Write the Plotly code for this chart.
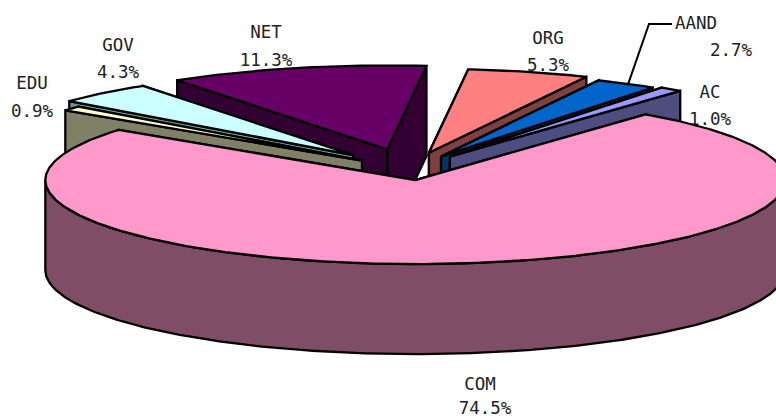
import numpy as np
import plotly.graph_objects as go

# Share of domains by type, clockwise from the first slice
categories = ["COM", "EDU", "GOV", "NET", "ORG", "AAND", "AC"]
shares = [74.5, 0.9, 4.3, 11.3, 5.3, 2.7, 1.0]

# Styling for each slice
top_colors = ["#FF99CC", "#FFFFCC", "#CCFFFF", "#660066", "#FF8080", "#0066CC", "#9999FF"]
wall_colors = ["#804D66", "#808066", "#669999", "#330033", "#804040", "#003366", "#4D4D80"]
explosion = [0.133, 0.162, 0.225, 0.24, 0.2, 0.173, 0.185]
paint_order = ["NET", "GOV", "ORG", "AAND", "AC", "EDU", "COM"]

# Label centres as (x, y of name line, y of value line)
label_pos = {
    "COM": [(480, 386), (485, 410)],
    "EDU": [(32, 85), (32, 113)],
    "GOV": [(118, 47), (118, 74)],
    "NET": [(266, 34), (266, 62)],
    "ORG": [(548, 40), (548, 67)],
    "AAND": [(696, 25), (731, 52)],
    "AC": [(710, 94), (710, 121)],
}

# Pie projection in page pixels
CX, CY, RX, RY, DEPTH = 409, 169, 370, 84, 90
START_ANGLE = 38.5
LINE = dict(color="black", width=2.3)
TEXT_FONT = dict(family="DejaVu Sans Mono", size=17.5, color="#222222")


def project(angle_deg, radius=1.0, ox=CX, oy=CY):
    a = np.radians(angle_deg)
    return ox + radius * RX * np.sin(a), oy - radius * RY * np.cos(a)


def polygon(xs, ys, color):
    xs, ys = list(xs), list(ys)
    return go.Scatter(
        x=xs + xs[:1], y=ys + ys[:1], mode="lines", fill="toself",
        fillcolor=color, line=LINE, hoverinfo="skip",
    )


fig = go.Figure()

# Text goes first so the slices overlap it
for name, share in zip(categories, shares):
    (x0, y0), (x1, y1) = label_pos[name]
    fig.add_trace(go.Scatter(
        x=[x0, x1], y=[y0, y1], mode="text",
        text=[name, f"{share:.1f}%"], textposition="middle center",
        textfont=TEXT_FONT, hoverinfo="skip",
    ))

# Slice extents from the shares
spans = {}
angle = START_ANGLE
for name, share in zip(categories, shares):
    spans[name] = (angle, angle + share * 3.6)
    angle += share * 3.6

for name in paint_order:
    i = categories.index(name)
    a0, a1 = spans[name]
    mid = (a0 + a1) / 2
    ax, ay = project(mid, explosion[i])

    # Radial walls, rearmost first
    ends = sorted([a0, a1], key=lambda a: project(a, 1, ax, ay)[1])
    for a in ends:
        ox, oy = project(a, 1, ax, ay)
        fig.add_trace(polygon([ax, ox, ox, ax], [ay, oy, oy + DEPTH, ay + DEPTH], wall_colors[i]))

    # Outer rim wall, only the part that faces the viewer
    lo, hi = max(a0, 90.0), min(a1, 270.0)
    if hi > lo:
        arc = np.linspace(lo, hi, 240)
        px, py = project(arc, 1, ax, ay)
        fig.add_trace(polygon(
            np.concatenate([px, px[::-1]]),
            np.concatenate([py, py[::-1] + DEPTH]),
            wall_colors[i],
        ))

    # Top face
    arc = np.linspace(a0, a1, max(12, int((a1 - a0) * 2)))
    px, py = project(arc, 1, ax, ay)
    fig.add_trace(polygon(np.concatenate([[ax], px]), np.concatenate([[ay], py]), top_colors[i]))

# Leader line from the AAND slice to its label
i = categories.index("AAND")
a0, a1 = spans["AAND"]
ax, ay = project((a0 + a1) / 2, explosion[i])
lx, ly = project((a0 + a1) / 2, 1, ax, ay)
fig.add_trace(go.Scatter(
    x=[lx + 2, 649, 672], y=[ly, 24, 24], mode="lines",
    line=dict(color="black", width=2), hoverinfo="skip",
))

fig.update_layout(
    width=776, height=418, autosize=False, showlegend=False,
    margin=dict(l=0, r=0, t=0, b=0),
    paper_bgcolor="white", plot_bgcolor="white", hovermode=False,
    xaxis=dict(range=[0, 776], visible=False, fixedrange=True),
    yaxis=dict(range=[418, 0], visible=False, fixedrange=True),
)
fig.write_html("out.html", config={"displayModeBar": False})
